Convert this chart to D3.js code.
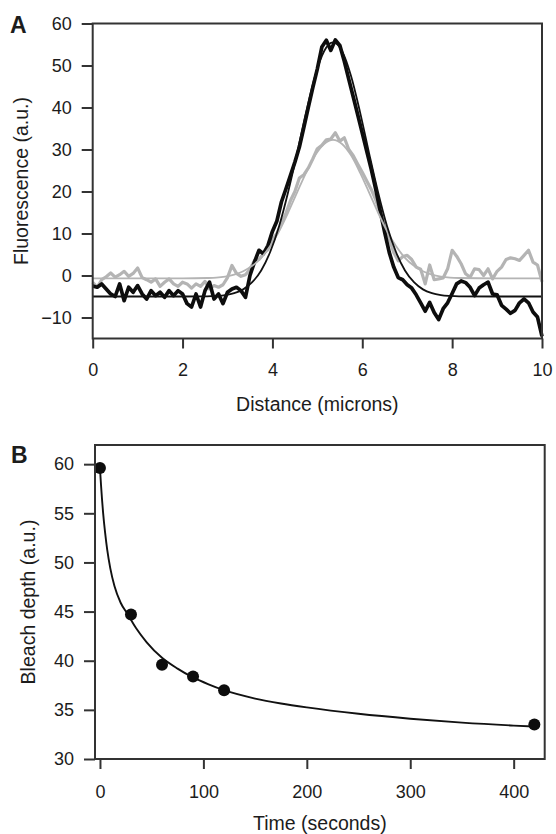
<!DOCTYPE html>
<html>
<head>
<meta charset="utf-8">
<script src="https://cdn.jsdelivr.net/npm/d3@7"></script>
<style>
    body { margin: 0; background: #ffffff; }
    text { font-family: "Liberation Sans", Arial, Helvetica, sans-serif; fill: #1c1c1c; }
</style>
</head>
<body>
<div id="chart"></div>
<script>
// panel A - line scan across the bleach spot
const distance = [
    0.0, 0.1, 0.2, 0.3, 0.4, 0.5, 0.6, 0.7, 0.8, 0.9,
    1.0, 1.1, 1.2, 1.3, 1.4, 1.5, 1.6, 1.7, 1.8, 1.9,
    2.0, 2.1, 2.2, 2.3, 2.4, 2.5, 2.6, 2.7, 2.8, 2.9,
    3.0, 3.1, 3.2, 3.3, 3.4, 3.5, 3.6, 3.7, 3.8, 3.9,
    4.0, 4.1, 4.2, 4.3, 4.4, 4.5, 4.6, 4.7, 4.8, 4.9,
    5.0, 5.1, 5.2, 5.3, 5.4, 5.5, 5.6, 5.7, 5.8, 5.9,
    6.0, 6.1, 6.2, 6.3, 6.4, 6.5, 6.6, 6.7, 6.8, 6.9,
    7.0, 7.1, 7.2, 7.3, 7.4, 7.5, 7.6, 7.7, 7.8, 7.9,
    8.0, 8.1, 8.2, 8.3, 8.4, 8.5, 8.6, 8.7, 8.8, 8.9,
    9.0, 9.1, 9.2, 9.3, 9.4, 9.5, 9.6, 9.7, 9.8, 9.9,
    10.0
];
const blackProfile = [
    -2.5, -2.8, -2.0, -3.2, -4.4, -5.0, -2.0, -6.0, -2.8, -4.0,
    -2.4, -4.4, -5.6, -3.6, -4.8, -4.0, -5.2, -3.6, -4.8, -3.6,
    -4.4, -6.7, -7.5, -4.4, -7.5, -3.6, -1.6, -5.6, -4.4, -6.7,
    -4.0, -3.2, -2.8, -3.6, -5.2, 0.0, 3.2, 6.0, 5.2, 7.1,
    10.5, 13.0, 17.5, 20.6, 23.8, 27.0, 30.6, 35.3, 40.1, 44.8,
    49.2, 54.4, 56.0, 53.6, 56.1, 54.8, 51.0, 46.7, 42.5, 38.2,
    33.9, 29.6, 25.3, 20.5, 15.3, 10.2, 5.5, 2.0, -0.5, -1.0,
    -2.2, -3.0, -4.6, -6.5, -8.5, -6.4, -8.8, -10.5, -7.9, -6.5,
    -4.3, -2.0, -1.3, -1.7, -2.8, -4.8, -3.0, -2.2, -1.6, -4.4,
    -4.6, -7.1, -8.0, -9.0, -8.3, -6.5, -5.6, -6.5, -8.7, -9.9,
    -14.5
];
const grayProfile = [
    -1.6, -2.8, -1.0, -0.3, 0.6, -0.4, 0.2, 1.0, -0.2, 0.5,
    1.8, -0.5, -1.0, -1.6, -0.8, -2.6, -1.6, -0.8, -2.0, -2.6,
    -1.6, -2.0, -3.0, -2.0, -2.6, -1.4, -3.2, -2.4, -2.8, -2.2,
    -0.5, 2.4, 0.5, -0.2, 0.2, 1.5, 3.6, 3.8, 5.2, 6.2,
    8.5, 10.0, 12.3, 14.8, 17.8, 20.0, 23.2, 24.0, 25.6, 27.8,
    30.2, 31.0, 32.3, 32.5, 34.0, 32.0, 32.8, 30.0, 28.5, 26.5,
    24.6, 22.5, 20.5, 18.0, 15.0, 12.0, 8.8, 5.5, 3.5, 4.5,
    4.8, 3.8, 2.0, 1.5, -2.0, 2.5, -1.0, -0.8, -0.6, 1.6,
    6.0, 4.6, 2.8, 0.4, -0.4, 1.6, 1.4, 0.0, 1.6, -0.8,
    1.0, 2.0, 3.8, 4.2, 4.0, 3.6, 4.8, 6.0, 3.2, 2.5,
    -1.5
];
// smooth fits
const fitDistance = [0, 1, 2, 2.55, 2.75, 2.95, 3.15, 3.35, 3.55, 3.75, 3.95, 4.15, 4.35, 4.55, 4.75, 4.95, 5.15,
    5.35, 5.55, 5.75, 5.95, 6.15, 6.35, 6.55, 6.75, 6.95, 7.15, 7.35, 7.55, 7.75, 7.95, 8.15, 9, 10];
const blackFit = [-5, -5, -5, -4.95, -4.85, -4.65, -4.2, -3.3, -1.6, 1.2, 5.6, 11.8, 19.9, 29.2, 38.9, 47.5, 53.4,
    55.5, 53.4, 47.5, 38.9, 29.2, 19.9, 11.8, 5.6, 1.2, -1.6, -3.3, -4.2, -4.65, -4.85, -4.95, -5, -5];
const grayFit = [-0.7, -0.7, -0.7, -0.6, -0.5, -0.25, 0.2, 1.0, 2.3, 4.2, 7.0, 10.6, 15.0, 19.8, 24.5, 28.6, 31.3,
    32.3, 31.3, 28.6, 24.5, 19.8, 15.0, 10.6, 7.0, 4.2, 2.3, 1.0, 0.2, -0.25, -0.5, -0.6, -0.7, -0.7];
const distanceTicks = [0, 2, 4, 6, 8, 10];
const fluorTicks = [-10, 0, 10, 20, 30, 40, 50, 60];

// panel B - bleach depth over time
const timePoints = [0, 30, 60, 90, 120, 420];
const bleachDepth = [59.6, 44.7, 39.6, 38.4, 37.0, 33.5];
const fitTime = [0, 1, 2, 3, 5, 7, 10, 14, 20, 27, 35, 45, 60, 75, 90, 105, 120, 150, 175, 200, 250, 300, 350, 400, 420];
const fitDepth = [59.6, 57.9, 56.4, 55.1, 53.0, 51.3, 49.4, 47.6, 45.9, 44.7, 43.3, 41.9, 40.3, 39.2, 38.3, 37.6,
    37.0, 36.15, 35.65, 35.25, 34.6, 34.1, 33.7, 33.4, 33.3];
const timeTicks = [0, 100, 200, 300, 400];
const depthTicks = [30, 35, 40, 45, 50, 55, 60];

const WIDTH = 556;
const HEIGHT = 834;
const tickFont = "18px";
const titleFont = "19.5px";
const frameColour = "#333333";

let svg = d3.select("#chart")
    .append("svg")
        .attr("width", WIDTH)
        .attr("height", HEIGHT);

function drawFrame(g, x, y) {
    let x0 = x.range()[0], x1 = x.range()[1];
    let y0 = y.range()[1], y1 = y.range()[0];
    g.append("rect")
        .attr("x", x0)
        .attr("y", y0)
        .attr("width", x1 - x0)
        .attr("height", y1 - y0)
        .attr("fill", "none")
        .attr("stroke", frameColour)
        .attr("stroke-width", 2);
}

function drawAxes(g, x, y, xTicks, yTicks, xPad) {
    let bottom = y.range()[0];
    let left = x.range()[0];

    let xAxis = g.append("g")
        .attr("transform", `translate(0, ${ bottom })`)
        .call(d3.axisBottom(x).tickValues(xTicks).tickSize(10).tickPadding(xPad).tickFormat(d3.format("d")));
    let yAxis = g.append("g")
        .attr("transform", `translate(${ left }, 0)`)
        .call(d3.axisLeft(y).tickValues(yTicks).tickSize(11).tickPadding(10).tickFormat(d3.format("d")));

    [xAxis, yAxis].forEach(axis => {
        axis.select(".domain").remove();
        axis.selectAll("line").attr("stroke", frameColour).attr("stroke-width", 2);
        axis.selectAll("text")
            .attr("fill", "#1c1c1c")
            .style("font-size", tickFont)
            .style("font-family", "'Liberation Sans', Arial, sans-serif");
    });
}

function addTitles(g, x, y, xTitle, yTitle, xTitleY, yTitleX) {
    let cx = (x.range()[0] + x.range()[1]) / 2;
    let cy = (y.range()[0] + y.range()[1]) / 2;
    g.append("text")
        .attr("x", cx)
        .attr("y", xTitleY)
        .attr("text-anchor", "middle")
        .style("font-size", titleFont)
        .text(xTitle);
    g.append("text")
        .attr("transform", `translate(${ yTitleX }, ${ cy }) rotate(-90)`)
        .attr("text-anchor", "middle")
        .style("font-size", titleFont)
        .text(yTitle);
}

function panelLetter(g, letter, px, py) {
    g.append("text")
        .attr("x", px)
        .attr("y", py)
        .style("font-size", "23px")
        .style("font-weight", "bold")
        .attr("fill", "#111")
        .text(letter);
}

function plotProfile() {
    let g = svg.append("g");
    let x = d3.scaleLinear().domain([0, 10]).range([92.7, 542]);
    let y = d3.scaleLinear().domain([-15, 60]).range([338.5, 23.5]);

    let line = d3.line()
        .x(d => x(d[0]))
        .y(d => y(d[1]));
    let smooth = d3.line()
        .x(d => x(d[0]))
        .y(d => y(d[1]))
        .curve(d3.curveMonotoneX);

    let traces = [
        { xs: distance, ys: grayProfile, gen: line, colour: "#b4b4b4", width: 3.2 },
        { xs: distance, ys: blackProfile, gen: line, colour: "#0d0d0d", width: 3.7 },
        { xs: fitDistance, ys: grayFit, gen: smooth, colour: "#b4b4b4", width: 1.8 },
        { xs: fitDistance, ys: blackFit, gen: smooth, colour: "#111111", width: 1.8 }
    ];

    traces.forEach(t => {
        g.append("path")
            .datum(d3.zip(t.xs, t.ys))
            .attr("d", t.gen)
            .attr("fill", "none")
            .attr("stroke", t.colour)
            .attr("stroke-width", t.width)
            .attr("stroke-linejoin", "round");
    });

    drawFrame(g, x, y);
    drawAxes(g, x, y, distanceTicks, fluorTicks, 15);
    addTitles(g, x, y, "Distance (microns)", "Fluorescence (a.u.)", 411, 28);
    panelLetter(g, "A", 10, 33);
}

function plotRecovery() {
    let g = svg.append("g");
    let x = d3.scaleLinear().domain([-4.8, 430]).range([95, 544.7]);
    let y = d3.scaleLinear().domain([30, 61.95]).range([759, 445]);

    g.append("path")
        .datum(d3.zip(fitTime, fitDepth))
        .attr("d", d3.line().x(d => x(d[0])).y(d => y(d[1])).curve(d3.curveMonotoneX))
        .attr("fill", "none")
        .attr("stroke", "#111")
        .attr("stroke-width", 1.9);

    g.selectAll("circle")
        .data(d3.zip(timePoints, bleachDepth))
        .enter()
        .append("circle")
            .attr("cx", d => x(d[0]))
            .attr("cy", d => y(d[1]))
            .attr("r", 6)
            .attr("fill", "#0d0d0d");

    drawFrame(g, x, y);
    drawAxes(g, x, y, timeTicks, depthTicks, 16);
    addTitles(g, x, y, "Time (seconds)", "Bleach depth (a.u.)", 830, 35);
    panelLetter(g, "B", 11, 463);
}

plotProfile();
plotRecovery();
</script>
</body>
</html>
